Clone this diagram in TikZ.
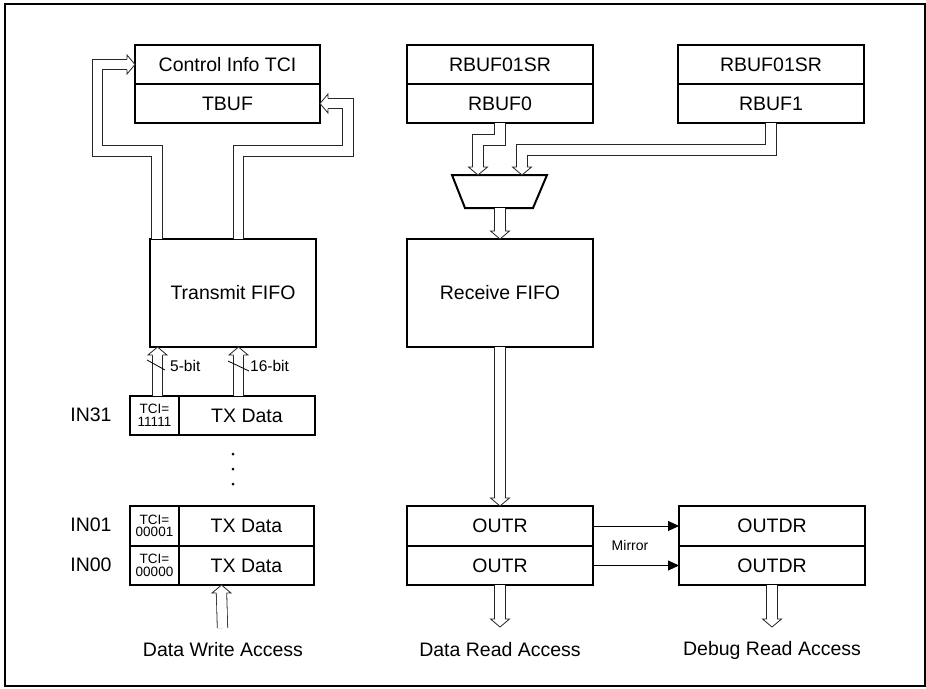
\documentclass[tikz,border=0pt]{standalone}
\usepackage{fontspec}
\setmainfont{Liberation Sans}
\usetikzlibrary{arrows.meta,calc}
\tikzset{
  bushead/.pic={
    \draw[line width=0.8pt, draw=black!85, fill=white]
      (-8,5.2) -- (-8,9.5) -- (0,0) -- (-8,-9.5) -- (-8,-5.2);
  },
}

\begin{document}
\begin{tikzpicture}[x=1pt, y=-1pt,
  reg/.style={
    draw,
    line width=2pt,
    inner sep=0pt,
    outer sep=0pt,
    anchor=north west,
    minimum width=186,
    minimum height=39,
    font=\fontsize{19.5}{20}\selectfont
  },
  tcicell/.style={
    reg,
    minimum width=49,
    align=center,
    font=\fontsize{13.5}{12.5}\selectfont
  },
  lbl/.style={font=\fontsize{19.5}{20}\selectfont, inner sep=0pt},
  bitlbl/.style={font=\fontsize{15.5}{15}\selectfont, inner sep=0pt, anchor=west},
  bus/.style={draw=black!85, line width=0.8pt, double=white, double distance=9.6pt},
  mirror/.style={line width=0.9pt, -{Triangle[length=11pt,width=10pt]}}
]
 \useasboundingbox (0,0) rectangle (926,688);
 \draw[line width=1.8pt] (5,4) rectangle (925,686);
 % buffers on top
 \node[reg, minimum width=185] (tci) at (135,45) {Control Info TCI};
 \node[reg, minimum width=185] (tbuf) at (tci.south west) {TBUF};
 \node[reg] (rsr0) at (407,45) {RBUF01SR};
 \node[reg] (rbuf0) at (rsr0.south west) {RBUF0};
 \node[reg] (rsr1) at (678,45) {RBUF01SR};
 \node[reg] (rbuf1) at (rsr1.south west) {RBUF1};
 % fifos
 \node[reg, minimum width=166, minimum height=108] (txfifo) at (150,239) {Transmit FIFO};
 \node[reg, minimum height=108] (rxfifo) at (407,239) {Receive FIFO};
 % mux
 \draw[line width=2pt] (452,175) -- (547,175) -- (533,208) -- (465,208) -- cycle;
 \coordinate (muxa) at (478,175);
 \coordinate (muxb) at (522,175);
 \coordinate (muxo) at (500,208);
 % input registers
 \node[tcicell] (tci31) at (130,396) {TCI=\\11111};
 \node[reg, minimum width=136] (tx31) at (tci31.north east) {TX Data};
 \node[tcicell, minimum height=40] (tci01) at (130,506) {TCI=\\00001};
 \node[reg, minimum width=135, minimum height=40] (tx01) at (tci01.north east) {TX Data};
 \node[tcicell] (tci00) at (tci01.south west) {TCI=\\00000};
 \node[reg, minimum width=135] (tx00) at (tci00.north east) {TX Data};
 \node[lbl] (in31) at (91,415) {IN31};
 \node[lbl] (in01) at (91,525) {IN01};
 \node[lbl] (in00) at (91,565) {IN00};
 \fill (233,454) circle (1.5) (233,469) circle (1.5) (233,484) circle (1.5);
 % output registers
 \node[reg, minimum height=40] (outr0) at (407,506) {OUTR};
 \node[reg] (outr1) at (outr0.south west) {OUTR};
 \node[reg, minimum height=40] (outdr0) at (679,506) {OUTDR};
 \node[reg] (outdr1) at (outdr0.south west) {OUTDR};
 \node[lbl] (dwa) at (223,650) {Data Write Access};
 \node[lbl] (dra) at (500,650) {Data Read Access};
 \node[lbl] (dba) at (772,650) {Debug Read Access};
 \coordinate (wr) at (222.5,628);
 \coordinate (rd) at (500,627);
 \coordinate (db) at (772,627);
 % hollow busses
 \draw[bus] ($(txfifo.north west)+(7,0)$) |- (97.5,151) |- ($(tci.west)+(-8,0)$);
 \pic at (tci.west) {bushead};
 \draw[bus] ($(txfifo.north west)+(88.5,0)$) |- (348,151) |- ($(tbuf.east)+(8,0)$);
 \pic[rotate=180] at (tbuf.east) {bushead};
 \draw[bus] (rbuf0.south) |- (478,140) -- ($(muxa)+(0,-8)$);
 \pic[rotate=-90] at (muxa) {bushead};
 \draw[bus] (rbuf1.south) |- (522,150) -- ($(muxb)+(0,-8)$);
 \pic[rotate=-90] at (muxb) {bushead};
 \draw[bus] (muxo) -- ($(rxfifo.north)+(0,-8)$);
 \pic[rotate=-90] at (rxfifo.north) {bushead};
 \draw[bus] (rxfifo.south) -- ($(outr0.north)+(0,-8)$);
 \pic[rotate=-90] at (outr0.north) {bushead};
 \draw[bus] (outr1.south) -- ($(rd)+(0,-8)$);
 \pic[rotate=-90] at (rd) {bushead};
 \draw[bus] (outdr1.south) -- ($(db)+(0,-8)$);
 \pic[rotate=-90] at (db) {bushead};
 \draw[bus] ($(tci31.north west)+(27.5,0)$) -- ($(txfifo.south west)+(7.5,8)$);
 \pic[rotate=90] at ($(txfifo.south west)+(7.5,0)$) {bushead};
 \draw[bus] ($(tx31.north west)+(59.5,0)$) -- ($(txfifo.south west)+(88.5,8)$);
 \pic[rotate=90] at ($(txfifo.south west)+(88.5,0)$) {bushead};
 \draw[bus] (wr) -- ($(tx00.south west)+(42.5,8)$);
 \pic[rotate=90] at ($(tx00.south west)+(42.5,0)$) {bushead};
 % bit widths
 \draw[line width=0.8pt] (147,360) -- (165,370);
 \node[bitlbl] at (170,366) {5-bit};
 \draw[line width=0.8pt] (228,361) -- (249,371);
 \node[bitlbl] at (250,366) {16-bit};
 % mirror
 \draw[mirror] (outr0.east) -- (outdr0.west);
 \draw[mirror] (outr1.east) -- (outdr1.west);
 \node[font=\fontsize{14}{14}\selectfont] at (630,545) {Mirror};
\end{tikzpicture}
\end{document}
